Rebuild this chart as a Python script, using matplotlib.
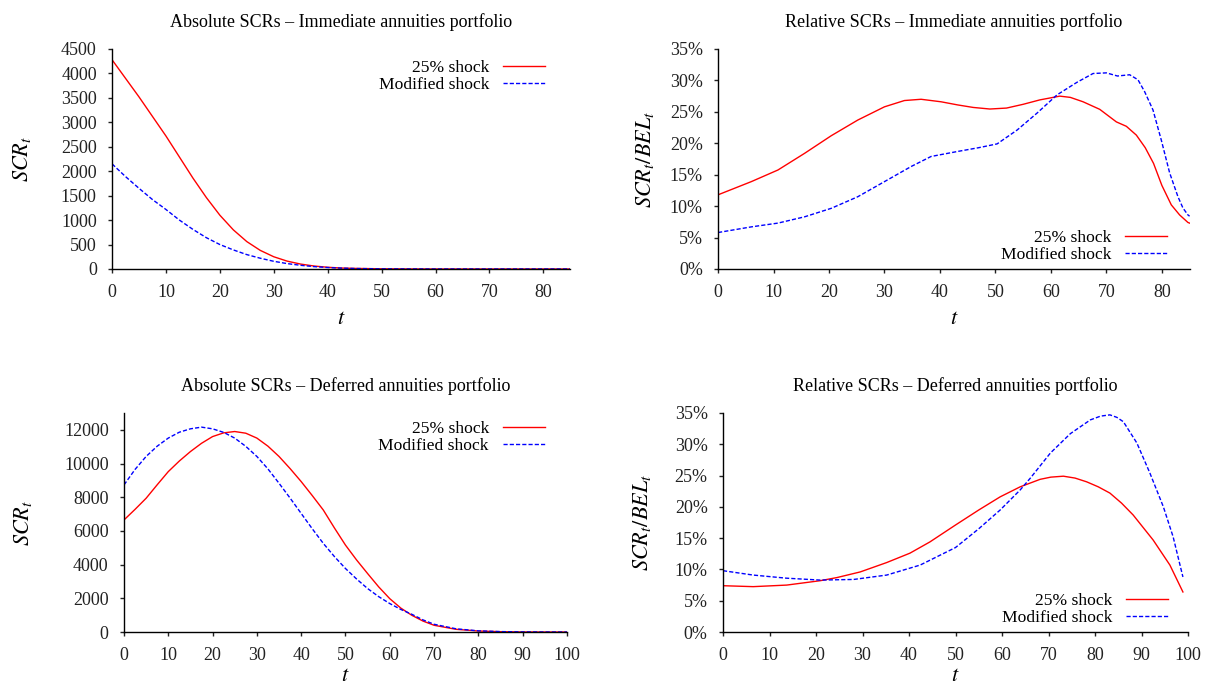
import matplotlib
matplotlib.use("Agg")
import matplotlib.pyplot as plt
from matplotlib.ticker import FuncFormatter

plt.rcParams['font.family'] = ['Liberation Serif', 'DejaVu Serif']
plt.rcParams['mathtext.fontset'] = 'stix'
plt.rcParams['font.size'] = 13

# Immediate annuities, absolute SCR
t_imm_abs = [0, 2.5, 5, 7.5, 10, 12.5, 15, 17.5, 20, 22.5, 25, 27.5, 30, 32.5, 35, 37.5, 40,
             42.5, 45, 50, 55, 60, 65, 70, 75, 80, 85]
imm_abs_25 = [4280, 3900, 3520, 3120, 2720, 2290, 1860, 1460, 1100, 800, 560, 380, 250, 160,
              100, 60, 35, 20, 12, 4, 1, 0, 0, 0, 0, 0, 0]
imm_abs_mod = [2150, 1890, 1650, 1420, 1217, 1000, 810, 640, 500, 390, 294, 220, 157, 110,
               75, 48, 30, 18, 10, 3, 1, 0, 0, 0, 0, 0, 0]

# Immediate annuities, relative SCR (%)
t_imm_rel_25 = [0, 6, 10.8, 15.6, 20.4, 25.2, 30, 33.6, 36.6, 40.2, 43.2, 46, 49, 52, 55, 58,
                61.6, 63.5, 65.8, 68.8, 71.8, 73.6, 75.4, 77, 78.5, 80, 81.7, 83.2, 84.7, 85]
imm_rel_25 = [11.8, 13.9, 15.75, 18.4, 21.2, 23.7, 25.8, 26.8, 27.0, 26.6, 26.1, 25.7, 25.45,
              25.6, 26.2, 26.9, 27.5, 27.3, 26.6, 25.4, 23.4, 22.7, 21.3, 19.3, 16.8, 13.3,
              10.2, 8.6, 7.4, 7.3]
t_imm_rel_mod = [0, 6, 10.8, 15.6, 20.4, 25.2, 30, 34.8, 38.4, 43.2, 47, 50.3, 53.9, 57.5, 61.1,
                 64.7, 67.6, 70, 72, 74.2, 75.7, 76.9, 78.4, 79.9, 81.4, 82.9, 83.8, 84.7, 85]
imm_rel_mod = [5.8, 6.7, 7.3, 8.3, 9.65, 11.5, 13.9, 16.3, 17.9, 18.7, 19.3, 19.9, 22.1, 24.8,
               27.7, 29.7, 31.1, 31.2, 30.7, 30.9, 30.1, 28.2, 25.3, 20.5, 15.3, 11.5, 9.7,
               8.6, 8.4]

# Deferred annuities, absolute SCR
t_def_abs = [0, 2.5, 5, 7.5, 10, 12.5, 15, 17.5, 20, 22.5, 25, 27.5, 30, 32.5, 35, 37.5, 40,
             42.5, 45, 47.5, 50, 52.5, 55, 57.5, 60, 62.5, 65, 67.5, 70, 75, 80, 85, 90, 95, 100]
def_abs_25 = [6650, 7280, 7940, 8740, 9520, 10150, 10710, 11200, 11600, 11820, 11900, 11800,
              11510, 11030, 10420, 9700, 8930, 8100, 7240, 6180, 5160, 4280, 3470, 2680, 1980,
              1420, 990, 650, 400, 160, 60, 20, 5, 1, 0]
def_abs_mod = [8730, 9650, 10420, 11030, 11510, 11860, 12060, 12160, 12060, 11850, 11510, 11020,
               10420, 9680, 8830, 7950, 7040, 6130, 5260, 4480, 3770, 3150, 2580, 2100, 1690,
               1340, 1050, 720, 460, 190, 70, 25, 8, 2, 0]

# Deferred annuities, relative SCR (%)
t_def_rel_25 = [0, 6.5, 13.7, 20.9, 24.5, 29.5, 35.2, 40.2, 44.5, 50, 55, 59.6, 63.9, 68.2,
                70.5, 73.2, 75.7, 78.2, 80.7, 83.2, 85.7, 88.2, 92.5, 96.1, 98.9]
def_rel_25 = [7.4, 7.25, 7.5, 8.2, 8.7, 9.6, 11.1, 12.6, 14.4, 17.1, 19.5, 21.6, 23.2, 24.4,
              24.75, 24.9, 24.6, 24.0, 23.2, 22.2, 20.6, 18.7, 14.7, 10.7, 6.4]
t_def_rel_mod = [0, 6.5, 13.7, 20.9, 28.1, 35.2, 42.4, 50, 55, 59.6, 63.9, 66.1, 70.4, 74.7,
                 79.0, 81.2, 83.2, 84.7, 86.1, 89.0, 91.8, 94.7, 96.8, 98.9]
def_rel_mod = [9.8, 9.1, 8.6, 8.3, 8.4, 9.1, 10.7, 13.5, 16.5, 19.5, 22.7, 24.6, 28.6, 31.7,
               33.9, 34.5, 34.7, 34.3, 33.6, 30.2, 25.4, 20.0, 15.2, 8.8]

RED = '#ff0000'
BLUE = '#0000ff'

fig = plt.figure(figsize=(12.06, 6.89), dpi=100)


def style(ax):
    for s in ('top', 'right'):
        ax.spines[s].set_visible(False)
    for s in ('left', 'bottom'):
        ax.spines[s].set_linewidth(1.0)
    ax.tick_params(direction='out', length=3, width=1.0, labelsize=13, colors='#222222')
    ax.tick_params(axis='x', pad=8)
    ax.tick_params(axis='y', pad=8)


def draw(ax, t1, y1, t2, y2, title, ylabel, loc, anchor, ylab_x, xpad):
    ax.plot(t1, y1, color=RED, lw=1.0, label='25% shock')
    ax.plot(t2, y2, color=BLUE, lw=1.0, ls=(0, (3, 1.5)), label='Modified shock')
    ax.set_title(title, fontsize=13, pad=16)
    ax.set_xlabel('$t$', fontsize=16, labelpad=xpad)
    ax.set_ylabel(ylabel, fontsize=16)
    ax.yaxis.set_label_coords(ylab_x, 0.5)
    ax.legend(loc=loc, bbox_to_anchor=anchor, frameon=False, markerfirst=False, fontsize=12.6,
              handlelength=2.4, handletextpad=0.8, labelspacing=0.05, borderaxespad=0,
              borderpad=0)
    style(ax)


# top-left
ax1 = fig.add_axes([0.0929, 0.6096, 0.380, 0.3193])
draw(ax1, t_imm_abs, imm_abs_25, t_imm_abs, imm_abs_mod,
     'Absolute SCRs – Immediate annuities portfolio', '$SCR_t$', 'upper right',
     (0.945, 0.950), -0.173, 6)
ax1.set_xlim(0, 85)
ax1.set_ylim(0, 4500)
ax1.set_xticks(range(0, 90, 10))
ax1.set_yticks(range(0, 5000, 500))

# top-right
pct = FuncFormatter(lambda v, p: '%d%%' % round(v))
ax2 = fig.add_axes([0.5954, 0.6096, 0.391, 0.3193])
draw(ax2, t_imm_rel_25, imm_rel_25, t_imm_rel_mod, imm_rel_mod,
     'Relative SCRs – Immediate annuities portfolio', '$SCR_t/BEL_t$', 'lower right',
     (0.953, 0.027), -0.131, 6)
ax2.set_xlim(0, 85)
ax2.set_ylim(0, 35)
ax2.set_xticks(range(0, 90, 10))
ax2.set_yticks(range(0, 40, 5))
ax2.yaxis.set_major_formatter(pct)

# bottom-left
ax3 = fig.add_axes([0.1028, 0.0827, 0.3673, 0.3179])
draw(ax3, t_def_abs, def_abs_25, t_def_abs, def_abs_mod,
     'Absolute SCRs – Deferred annuities portfolio', '$SCR_t$', 'upper right',
     (0.950, 0.963), -0.203, 2)
ax3.set_xlim(0, 100)
ax3.set_ylim(0, 13000)
ax3.set_xticks(range(0, 110, 10))
ax3.set_yticks(range(0, 14000, 2000))

# bottom-right
ax4 = fig.add_axes([0.5995, 0.0827, 0.3856, 0.3179])
draw(ax4, t_def_rel_25, def_rel_25, t_def_rel_mod, def_rel_mod,
     'Relative SCRs – Deferred annuities portfolio', '$SCR_t/BEL_t$', 'lower right',
     (0.957, 0.027), -0.150, 2)
ax4.set_xlim(0, 100)
ax4.set_ylim(0, 35)
ax4.set_xticks(range(0, 110, 10))
ax4.set_yticks(range(0, 40, 5))
ax4.yaxis.set_major_formatter(pct)

fig.savefig('out.png', dpi=100)
